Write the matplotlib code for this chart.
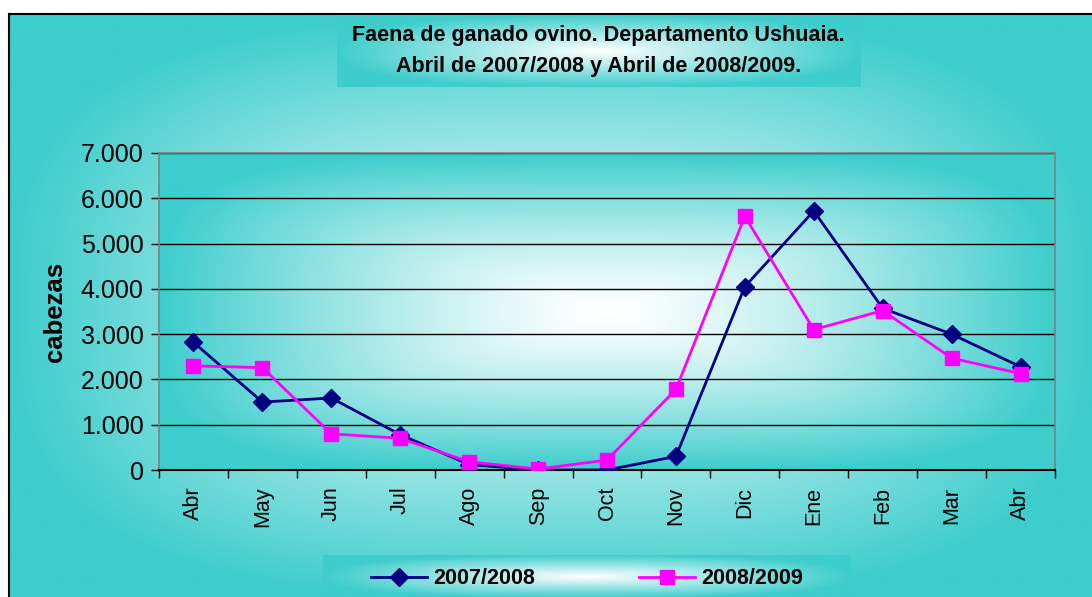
import numpy as np
import matplotlib
matplotlib.use("Agg")
import matplotlib.pyplot as plt
from matplotlib.ticker import FuncFormatter, FixedLocator
from matplotlib.lines import Line2D

plt.rcParams['font.family'] = ['Liberation Sans', 'DejaVu Sans']

months = ["Abr", "May", "Jun", "Jul", "Ago", "Sep", "Oct", "Nov", "Dic", "Ene", "Feb", "Mar", "Abr"]
serie_0708 = [2820, 1500, 1590, 780, 120, 0, 0, 300, 4050, 5720, 3570, 3000, 2280]
serie_0809 = [2300, 2260, 800, 700, 180, 20, 220, 1780, 5600, 3100, 3520, 2470, 2130]
labels = ["2007/2008", "2008/2009"]
title_lines = ["Faena de ganado ovino. Departamento Ushuaia.",
               "Abril de 2007/2008 y Abril de 2008/2009."]
ylabel = "cabezas"

W, H = 1092, 597
fig = plt.figure(figsize=(W / 100, H / 100), dpi=100)
fig.patch.set_facecolor("white")

TURQ = np.array([61, 205, 204]) / 255.0
WHITE = np.array([1.0, 1.0, 1.0])


def gradient(nx, ny, p=4.0, gamma=1.4):
    u = np.linspace(-1, 1, nx)[None, :]
    v = np.linspace(-1, 1, ny)[:, None]
    t = (np.abs(u) ** p + np.abs(v) ** p) ** (1.0 / p)
    t = np.clip(t, 0, 1) ** gamma
    img = WHITE[None, None, :] * (1 - t[..., None]) + TURQ[None, None, :] * t[..., None]
    return img


def fig_box(x0, y0, x1, y1, z=0, p=4.0, gamma=1.4):
    ax = fig.add_axes([x0 / W, 1 - y1 / H, (x1 - x0) / W, (y1 - y0) / H], zorder=z)
    ax.imshow(gradient(300, 200, p, gamma), extent=[0, 1, 0, 1], aspect="auto",
              interpolation="bilinear")
    ax.set_xlim(0, 1)
    ax.set_ylim(0, 1)
    ax.set_xticks([])
    ax.set_yticks([])
    for s in ax.spines.values():
        s.set_visible(False)
    return ax


# chart area background
bg = fig_box(9, 14, W + 2, H + 2, z=0, p=3.0, gamma=1.1)
bg.spines["left"].set_visible(True)
bg.spines["top"].set_visible(True)
bg.spines["left"].set_color("black")
bg.spines["top"].set_color("black")
bg.spines["left"].set_linewidth(1.5)
bg.spines["top"].set_linewidth(1.5)

# title box
tb = fig_box(337, 15, 860, 87, z=1, p=2.5, gamma=1.0)
tb.text(0.5, 0.71, title_lines[0], ha="center", va="center", fontsize=15.5,
        fontweight="bold", color="black")
tb.text(0.5, 0.28, title_lines[1], ha="center", va="center", fontsize=15.5,
        fontweight="bold", color="black")

# legend box
lb = fig_box(323, 555, 851, H + 1, z=1, p=2.5, gamma=1.0)

# main plot
L, R, T, B = 159, 1055, 153, 470
ax = fig.add_axes([L / W, 1 - B / H, (R - L) / W, (B - T) / H], zorder=2)
ax.set_xlim(-0.5, len(months) - 0.5)
ax.set_ylim(0, 7000)
ax.imshow(gradient(400, 300, p=4.0, gamma=1.3), extent=[-0.5, len(months) - 0.5, 0, 7000],
          aspect="auto", interpolation="bilinear", zorder=0)
ax.patch.set_visible(False)

for yv in range(1000, 7001, 1000):
    ax.axhline(yv, color="black", lw=1.0, zorder=1)

x = np.arange(len(months))
ax.plot(x, serie_0708, color="#000080", lw=2, marker="D", markersize=9,
        markerfacecolor="#000080", markeredgecolor="#000080", zorder=3, label=labels[0])
ax.plot(x, serie_0809, color="#FF00FF", lw=2, marker="s", markersize=10,
        markerfacecolor="#FF00FF", markeredgecolor="#FF00FF", zorder=4, label=labels[1])

ax.set_yticks(range(0, 7001, 1000))
ax.yaxis.set_major_formatter(FuncFormatter(lambda v, pos: f"{int(v):,}".replace(",", ".")))
ax.tick_params(axis="y", direction="out", length=6, width=1, labelsize=18, pad=5, colors="black")

ax.set_xticks(x)
ax.set_xticklabels(months, rotation=90, fontsize=15.5)
ax.tick_params(axis="x", which="major", length=0, pad=12)
ax.xaxis.set_minor_locator(FixedLocator(np.arange(-0.5, len(months), 1.0)))
ax.tick_params(axis="x", which="minor", direction="out", length=6, width=1, color="black")

for s in ["left", "top", "right"]:
    ax.spines[s].set_color("#808080")
    ax.spines[s].set_linewidth(1.2)
ax.spines["bottom"].set_color("black")
ax.spines["bottom"].set_linewidth(1.5)

ax.set_ylabel(ylabel, fontsize=18.5, fontweight="bold", labelpad=10)

handles = [
    Line2D([], [], color="#000080", lw=2, marker="D", markersize=9),
    Line2D([], [], color="#FF00FF", lw=2, marker="s", markersize=10),
]
leg = lb.legend(handles, labels, loc="center", ncol=2, frameon=False,
                prop={"size": 15.5, "weight": "bold"}, handlelength=2.6,
                columnspacing=4.8, handletextpad=0.3, bbox_to_anchor=(0.5, 0.45))

fig.savefig("out.png", dpi=100)
